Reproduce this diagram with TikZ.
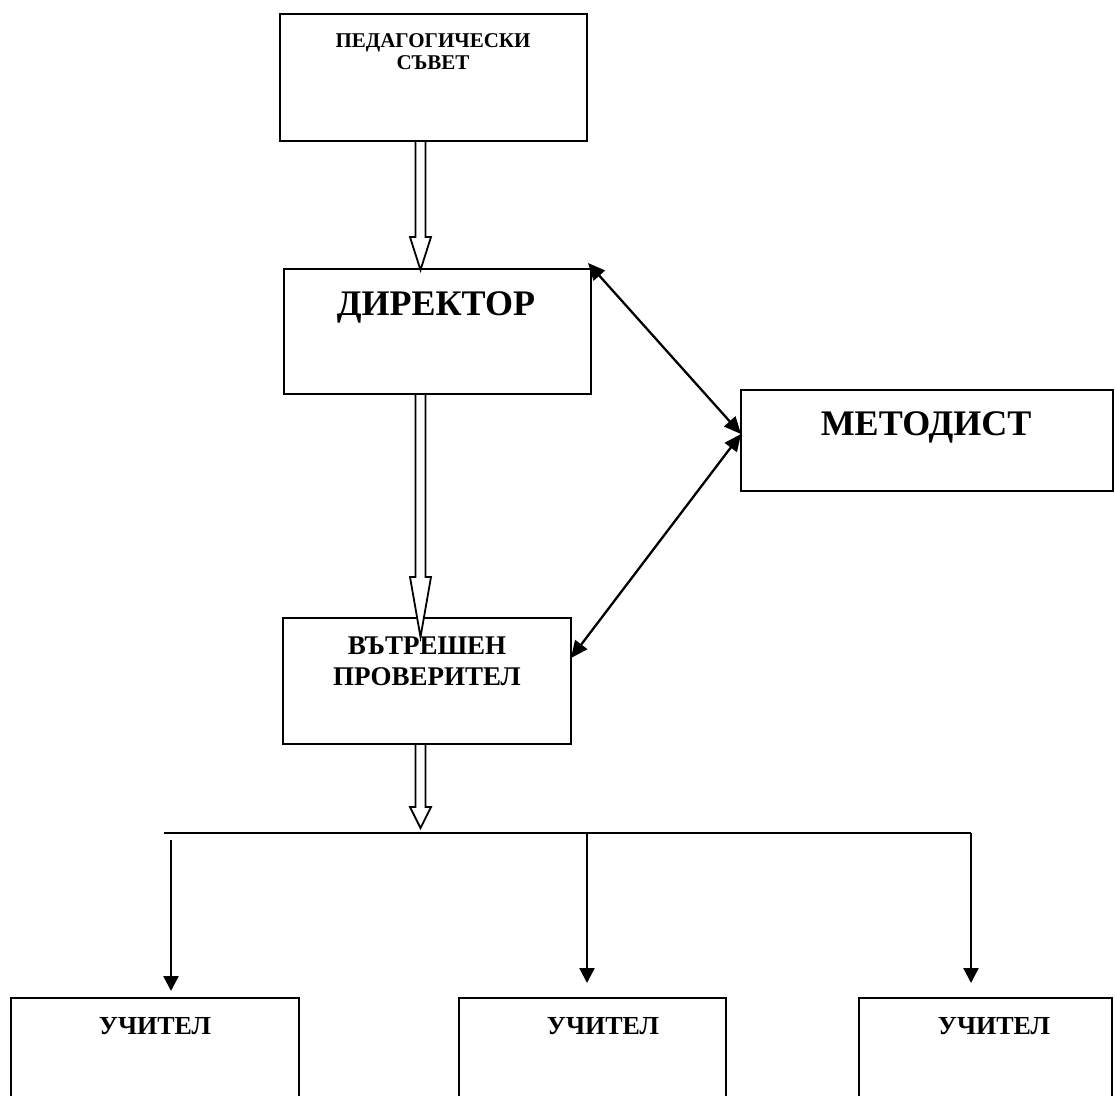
\documentclass[tikz,border=0pt]{standalone}
\usepackage{fontspec}
\setmainfont{Liberation Serif}
\usetikzlibrary{arrows.meta,calc}
\tikzset{
  box/.style={draw, line width=2.3pt, inner sep=0pt, outer sep=0pt, anchor=north west},
  lbl/.style={anchor=base, inner sep=0pt, font=\bfseries},
  hollow/.style={draw, fill=white, line width=1.8pt, line join=miter},
  dbl/.style={line width=2.3pt, {Triangle[length=17pt,width=15pt]}-{Triangle[length=17pt,width=15pt]}},
  down/.style={line width=2.3pt, -{Triangle[length=15pt,width=15pt]}},
  bus/.style={line width=2.3pt}
}
\newcommand\blockarrow[4]{%
  \draw[hollow] (#1-5,#2) -- (#1+5,#2) -- (#1+5,#3) -- (#1+10.5,#3) -- (#1,#4)
    -- (#1-10.5,#3) -- (#1-5,#3) -- cycle;}
\begin{document}
\begin{tikzpicture}[x=1pt,y=-1pt]
\useasboundingbox (0,0) rectangle (1115,1095);
\clip (0,0) rectangle (1115,1095);
% boxes
\node[box, minimum width=307pt, minimum height=127pt] (ped) at (280,14) {};
\node[box, minimum width=307pt, minimum height=125pt] (dir) at (284,269) {};
\node[box, minimum width=372pt, minimum height=101pt] (met) at (741,390) {};
\node[box, minimum width=288pt, minimum height=126pt] (vp) at (283,618) {};
\node[box, minimum width=288pt, minimum height=110pt] (u1) at (11,998) {};
\node[box, minimum width=267pt, minimum height=110pt] (u2) at (459,998) {};
\node[box, minimum width=253pt, minimum height=110pt] (u3) at (859,998) {};
% texts
\node[lbl, font=\bfseries\fontsize{21}{23}\selectfont] (pedA) at (433,47) {ПЕДАГОГИЧЕСКИ};
\node[lbl, font=\bfseries\fontsize{21}{23}\selectfont] (pedB) at (433,69) {СЪВЕТ};
\node[lbl, font=\bfseries\fontsize{36}{40}\selectfont] (dirT) at (436,315) {ДИРЕКТОР};
\node[lbl, font=\bfseries\fontsize{36}{40}\selectfont] (metT) at (926,435) {МЕТОДИСТ};
\node[lbl, font=\bfseries\fontsize{27}{31}\selectfont] (vpA) at (427,654) {ВЪТРЕШЕН};
\node[lbl, font=\bfseries\fontsize{27}{31}\selectfont] (vpB) at (427,685) {ПРОВЕРИТЕЛ};
\node[lbl, font=\bfseries\fontsize{26}{30}\selectfont] (u1T) at (155,1034) {УЧИТЕЛ};
\node[lbl, font=\bfseries\fontsize{26}{30}\selectfont] (u2T) at (603,1034) {УЧИТЕЛ};
\node[lbl, font=\bfseries\fontsize{26}{30}\selectfont] (u3T) at (994,1034) {УЧИТЕЛ};
% block arrows
\blockarrow{420.5}{141}{237}{270}
\blockarrow{420.5}{394}{577}{637}
\blockarrow{420.5}{744}{807}{828}
% double arrows
\coordinate (metIn) at ($(met.north west)+(0,44)$);
\coordinate (vpIn) at ($(vp.north east)+(0,40)$);
\draw[dbl] ($(dir.north east)+(-3,-6)$) -- (metIn);
\draw[dbl] (metIn) -- (vpIn);
% bus
\coordinate (busL) at (164,833);
\coordinate (busR) at (971,833);
\draw[bus] (busL) -- (busR);
\coordinate (d1) at (171,840);
\coordinate (d2) at (587,833);
\coordinate (d3) at (971,833);
\draw[down] (d1) -- ($(u1.north west)+(160,-7)$);
\draw[down] (d2) -- ($(u2.north west)+(128,-15)$);
\draw[down] (d3) -- ($(u3.north west)+(112,-15)$);
\end{tikzpicture}
\end{document}
